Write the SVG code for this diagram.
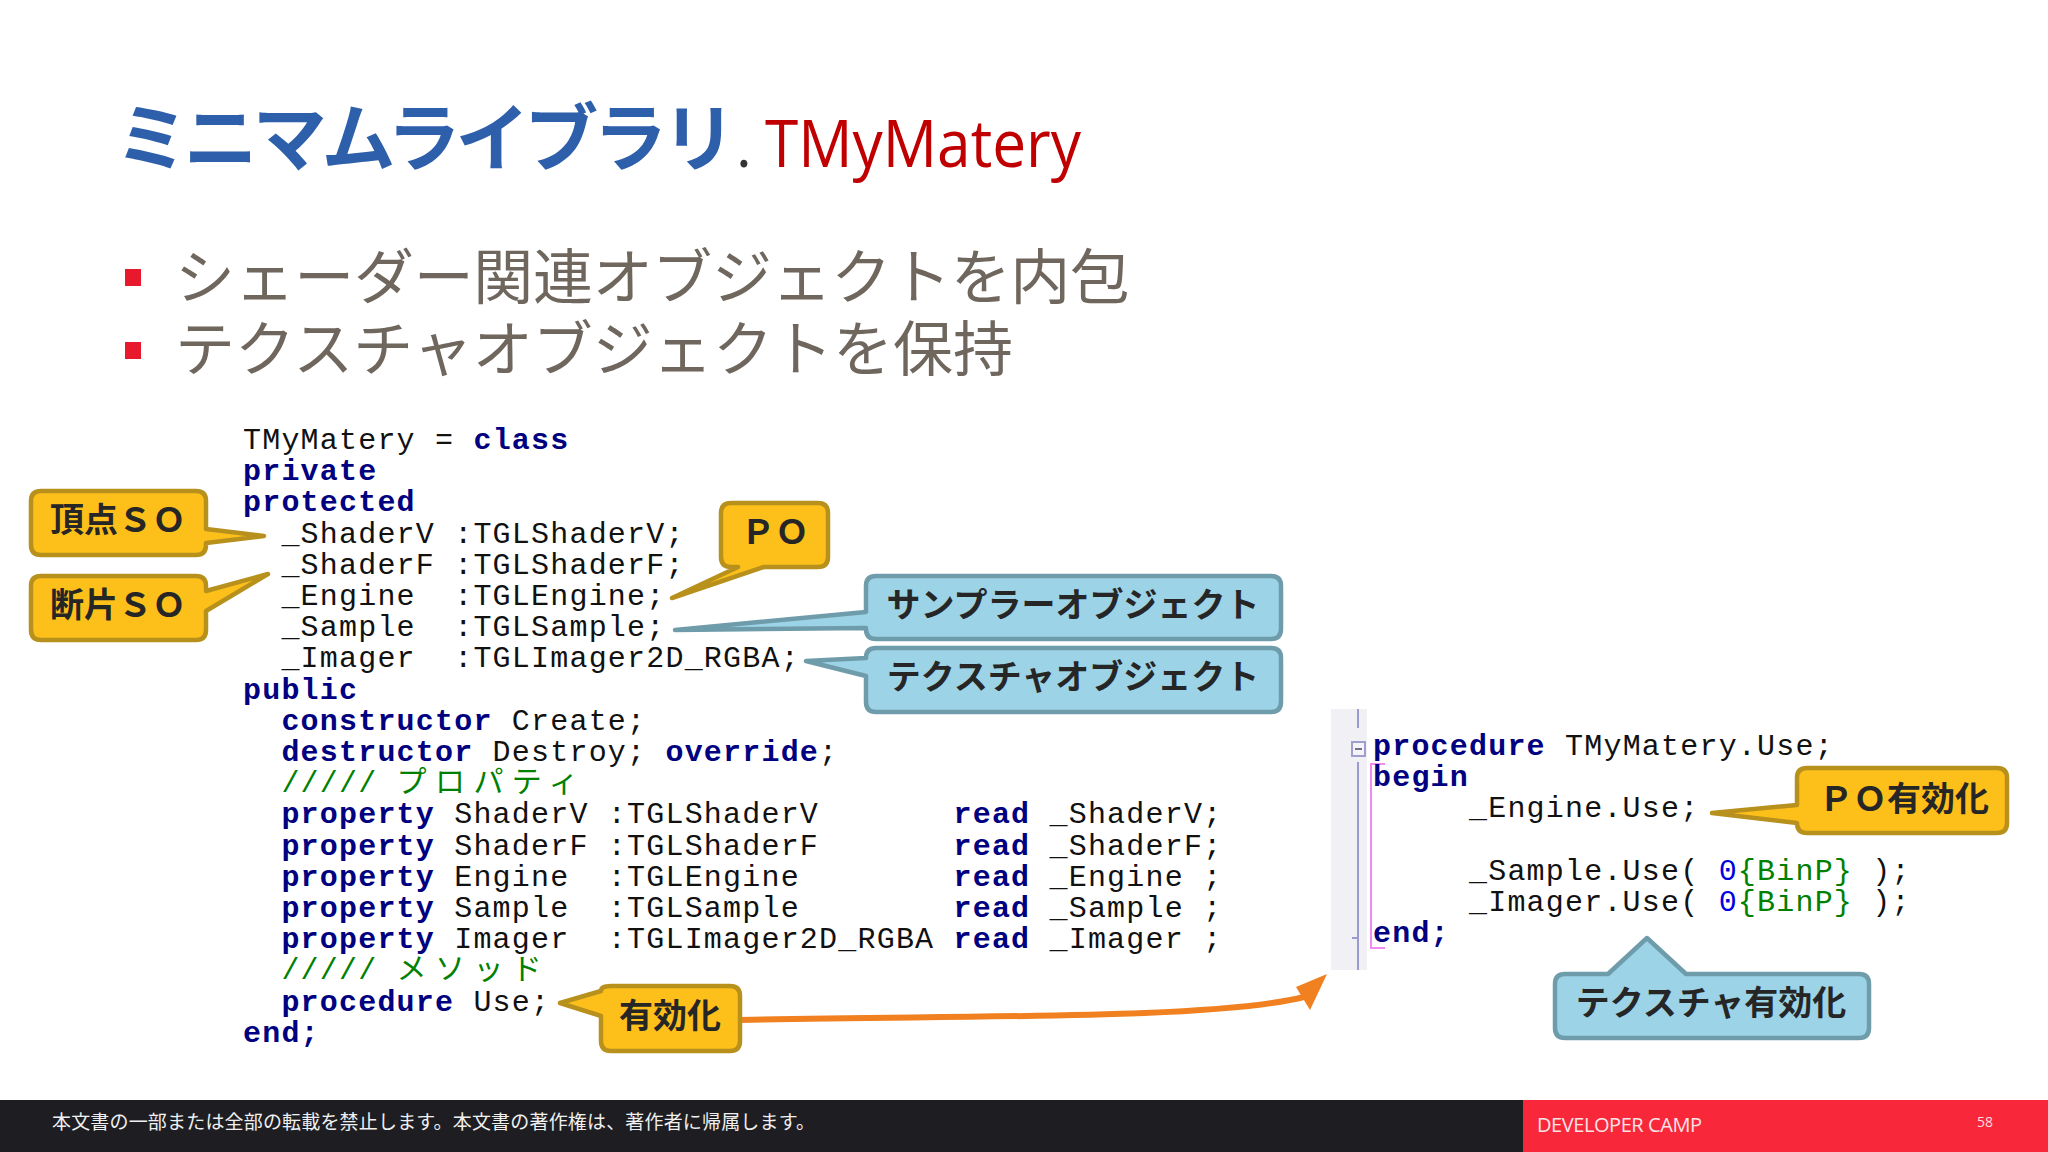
<svg xmlns="http://www.w3.org/2000/svg" width="2048" height="1152" viewBox="0 0 2048 1152">
<style>
text{white-space:pre}
.ja{font-family:"Noto Sans CJK JP","Noto Sans",sans-serif}
.code{font-family:"Liberation Mono","Noto Sans CJK JP",monospace;font-size:30px;letter-spacing:1.2px;fill:#111}
.k{font-weight:bold;fill:#000080}
.c{fill:#008000}
.n{fill:#0000e0}
.cj{letter-spacing:8.4px}
.y{fill:#fdc01a;stroke:#b8901c;stroke-width:4.5;stroke-linejoin:round}
.b{fill:#9cd3e6;stroke:#6f9cab;stroke-width:4.5;stroke-linejoin:round}
.lb{font-family:"Noto Sans CJK JP",sans-serif;font-weight:bold;font-size:34px;fill:#262626;text-anchor:middle}
.bl{font-family:"Noto Sans CJK JP",sans-serif;font-size:60px;fill:#6f675e}
</style>
<rect width="2048" height="1152" fill="#fff"/>
<g id="title">
<text class="ja" x="115" y="165" font-size="74" font-weight="bold" fill="#2e5fab" textLength="621">ミニマムライブラリ</text>
<text x="736" y="167" font-family="Open Sans,sans-serif" font-size="60" fill="#333">.</text>
<text x="765" y="167" font-family="Open Sans,sans-serif" font-size="66" fill="#c00000" textLength="316" lengthAdjust="spacingAndGlyphs">TMyMatery</text>
</g>
<g id="bullets">
<rect x="125" y="269" width="16" height="17" fill="#e8192c"/>
<rect x="125" y="342" width="16" height="17" fill="#e8192c"/>
<text class="bl" x="175" y="299" textLength="955">シェーダー関連オブジェクトを内包</text>
<text class="bl" x="175" y="371" textLength="838">テクスチャオブジェクトを保持</text>
</g>
<g id="code-class" class="code">
<text x="243" y="449">TMyMatery = <tspan class="k">class</tspan></text>
<text x="243" y="480.2" class="k">private</text>
<text x="243" y="511.4" class="k">protected</text>
<text x="281.4" y="542.6">_ShaderV :TGLShaderV;</text>
<text x="281.4" y="573.8">_ShaderF :TGLShaderF;</text>
<text x="281.4" y="605">_Engine  :TGLEngine;</text>
<text x="281.4" y="636.2">_Sample  :TGLSample;</text>
<text x="281.4" y="667.4">_Imager  :TGLImager2D_RGBA;</text>
<text x="243" y="698.6" class="k">public</text>
<text x="281.4" y="729.8"><tspan class="k">constructor</tspan> Create;</text>
<text x="281.4" y="761"><tspan class="k">destructor</tspan> Destroy; <tspan class="k">override</tspan>;</text>
<text x="281.4" y="792.2" class="c">///// <tspan class="cj">プロパティ</tspan></text>
<text x="281.4" y="823.4"><tspan class="k">property</tspan> ShaderV :TGLShaderV       <tspan class="k">read</tspan> _ShaderV;</text>
<text x="281.4" y="854.6"><tspan class="k">property</tspan> ShaderF :TGLShaderF       <tspan class="k">read</tspan> _ShaderF;</text>
<text x="281.4" y="885.8"><tspan class="k">property</tspan> Engine  :TGLEngine        <tspan class="k">read</tspan> _Engine ;</text>
<text x="281.4" y="917"><tspan class="k">property</tspan> Sample  :TGLSample        <tspan class="k">read</tspan> _Sample ;</text>
<text x="281.4" y="948.2"><tspan class="k">property</tspan> Imager  :TGLImager2D_RGBA <tspan class="k">read</tspan> _Imager ;</text>
<text x="281.4" y="979.4" class="c">///// <tspan class="cj">メソッド</tspan></text>
<text x="281.4" y="1010.6"><tspan class="k">procedure</tspan> Use;</text>
<text x="243" y="1041.8" class="k">end;</text>
</g>
<g id="code-use">
<rect x="1331" y="709" width="36" height="261" fill="#f0f0f5"/>
<path d="M1358 709V728M1358 762V970M1358 938H1352" fill="none" stroke="#9a9ad0" stroke-width="2"/>
<rect x="1352" y="742" width="13" height="14" fill="#f4f4f8" stroke="#a0a0d0" stroke-width="2"/>
<path d="M1355 749H1362" stroke="#707090" stroke-width="2"/>
<path d="M1385 764H1371V948H1385" fill="none" stroke="#f08cf0" stroke-width="2"/>
<g class="code">
<text x="1373" y="755"><tspan class="k">procedure</tspan> TMyMatery.Use;</text>
<text x="1373" y="786.2" class="k">begin</text>
<text x="1469" y="817.4">_Engine.Use;</text>
<text x="1469" y="879.8">_Sample.Use( <tspan class="n">0</tspan><tspan class="c">{BinP}</tspan> );</text>
<text x="1469" y="911">_Imager.Use( <tspan class="n">0</tspan><tspan class="c">{BinP}</tspan> );</text>
<text x="1373" y="942.2" class="k">end;</text>
</g>
</g>
<g id="connectors">
<path d="M740 1020C960 1015 1210 1020 1304 997" fill="none" stroke="#f08020" stroke-width="6"/>
<polygon points="1327,974 1296,987 1310,1010" fill="#f08020"/>
</g>
<g id="node-vertex-so">
<path class="y" d="M41 491H196Q206 491 206 501V529L264 536L206 543V545Q206 555 196 555H41Q31 555 31 545V501Q31 491 41 491Z"/>
<text class="lb" x="118" y="532">頂点ＳＯ</text>
</g>
<g id="node-fragment-so">
<path class="y" d="M41 576H196Q206 576 206 586V591L268 574L206 611V630Q206 640 196 640H41Q31 640 31 630V586Q31 576 41 576Z"/>
<text class="lb" x="118" y="617">断片ＳＯ</text>
</g>
<g id="node-po">
<path class="y" d="M731 503H818Q828 503 828 513V557Q828 567 818 567H764L672 598L738 567H731Q721 567 721 557V513Q721 503 731 503Z"/>
<text class="lb" x="775" y="544">ＰＯ</text>
</g>
<g id="node-sampler">
<path class="b" d="M876 576H1271Q1281 576 1281 586V629Q1281 639 1271 639H876Q866 639 866 629V628L675 630L866 612V586Q866 576 876 576Z"/>
<text class="lb" x="1073" y="617">サンプラーオブジェクト</text>
</g>
<g id="node-texture">
<path class="b" d="M876 648H1271Q1281 648 1281 658V702Q1281 712 1271 712H876Q866 712 866 702V676L806 661L866 658Q866 648 876 648Z"/>
<text class="lb" x="1073" y="689">テクスチャオブジェクト</text>
</g>
<g id="node-activate">
<path class="y" d="M611 986H730Q740 986 740 996V1041Q740 1051 730 1051H611Q601 1051 601 1041V1016L560 1003L601 991Q601 986 611 986Z"/>
<text class="lb" x="670" y="1028">有効化</text>
</g>
<g id="node-po-activate">
<path class="y" d="M1807 768H1997Q2007 768 2007 778V823Q2007 833 1997 833H1807Q1797 833 1797 823L1712 813L1797 805V778Q1797 768 1807 768Z"/>
<text class="lb" x="1904" y="811">ＰＯ有効化</text>
</g>
<g id="node-texture-activate">
<path class="b" d="M1565 974H1608L1647 938L1686 974H1859Q1869 974 1869 984V1028Q1869 1038 1859 1038H1565Q1555 1038 1555 1028V984Q1555 974 1565 974Z"/>
<text class="lb" x="1711" y="1015">テクスチャ有効化</text>
</g>
<g id="footer">
<rect x="0" y="1100" width="1523" height="52" fill="#1e1e22"/>
<rect x="1523" y="1100" width="525" height="52" fill="#f8273a"/>
<text class="ja" x="52" y="1129" font-size="19" fill="#f0f0f0" textLength="763">本文書の一部または全部の転載を禁止します。本文書の著作権は、著作者に帰属します。</text>
<text x="1537" y="1132" font-family="Open Sans,sans-serif" font-size="20" fill="#fbe4e6" textLength="165">DEVELOPER CAMP</text>
<text x="1977" y="1127" font-family="Open Sans,sans-serif" font-size="14" fill="#fbdde0">58</text>
</g>
</svg>
